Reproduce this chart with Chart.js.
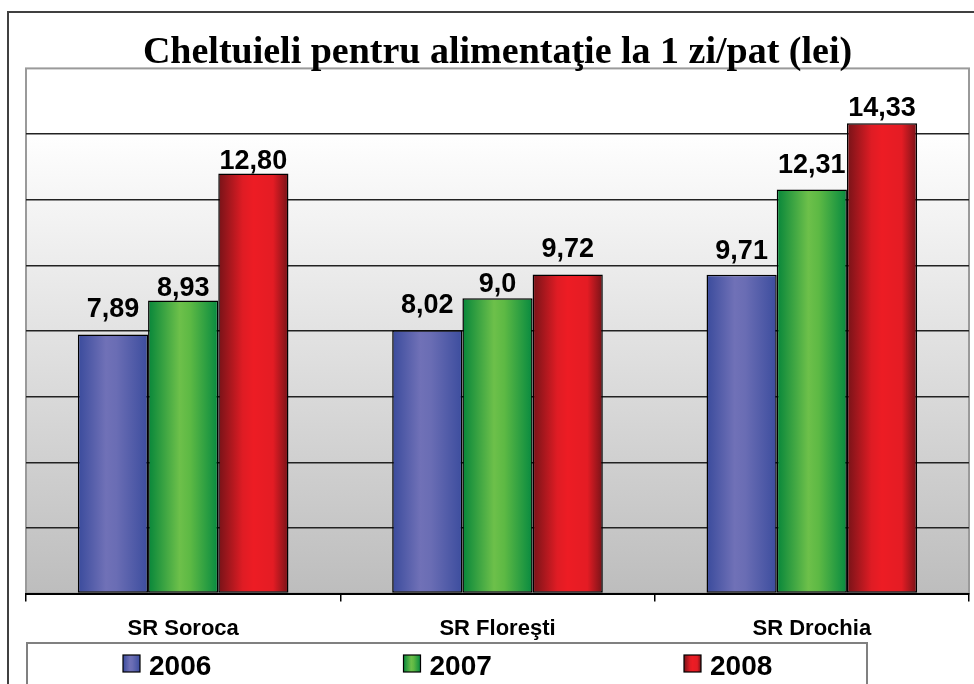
<!DOCTYPE html>
<html>
<head>
<meta charset="utf-8">
<script src="https://cdn.jsdelivr.net/npm/chart.js@4"></script>
<style>
    html, body { margin: 0; padding: 0; background: #fff; }
    #wrap { width: 974px; height: 684px; }
</style>
</head>
<body>
<div id="wrap"><canvas id="chart"></canvas></div>
<script>
// Data
const categories = ['SR Soroca', 'SR Floreşti', 'SR Drochia'];
const years = ['2006', '2007', '2008'];
const values2006 = [7.89, 8.02, 9.71];
const values2007 = [8.93, 9.0, 12.31];
const values2008 = [12.80, 9.72, 14.33];
const labels2006 = ['7,89', '8,02', '9,71'];
const labels2007 = ['8,93', '9,0', '12,31'];
const labels2008 = ['12,80', '9,72', '14,33'];
const yTicks = [0, 2, 4, 6, 8, 10, 12, 14, 16];

// Gap (px) between each value label and its bar, as placed in the original
const labelGaps = [[17, 16, 15], [3, 5, 16], [3, 17, 6]];

// Gradient stops for the cylinder look
const gradStops = [
    [[0, '#3a4b9c'], [0.4, '#7071b7'], [0.55, '#6a6db4'], [1, '#3c4d9e']],
    [[0, '#07863a'], [0.45, '#6dc04a'], [0.6, '#5db944'], [1, '#078a40']],
    [[0, '#761318'], [0.35, '#df1c24'], [0.5, '#ed1c24'], [0.78, '#e41c24'], [1, '#761318']]
];

const CAT_PCT = 0.67;

function makeGradient(ctx, left, width, idx) {
    const g = ctx.createLinearGradient(left, 0, left + width, 0);
    gradStops[idx].forEach(s => g.addColorStop(s[0], s[1]));
    return g;
}

function barFill(context) {
    const chart = context.chart;
    const x = chart.scales.x;
    const idx = context.datasetIndex;
    const fallback = gradStops[idx][1][1];
    if (!x || context.type !== 'data') return fallback;
    const center = x.getPixelForValue(context.dataIndex);
    const catW = (x.right - x.left) / categories.length;
    const barW = catW * CAT_PCT / years.length;
    const left = center - catW * CAT_PCT / 2 + idx * barW;
    if (!isFinite(left) || !isFinite(barW) || barW <= 0) return fallback;
    return makeGradient(chart.ctx, left, barW, idx);
}

// Background, outer frame and plot gradient
const backgroundPlugin = {
    id: 'background',
    beforeDraw(chart) {
        const ctx = chart.ctx;
        const a = chart.chartArea;
        ctx.save();
        ctx.fillStyle = '#fff';
        ctx.fillRect(0, 0, chart.width, chart.height);
        const g = ctx.createLinearGradient(0, a.top, 0, a.bottom);
        g.addColorStop(0, '#ffffff');
        g.addColorStop(0.12, '#ffffff');
        g.addColorStop(1, '#bdbdbd');
        ctx.fillStyle = g;
        ctx.fillRect(a.left, a.top, a.right - a.left, a.bottom - a.top);
        ctx.strokeStyle = '#9a9a9a';
        ctx.lineWidth = 2;
        ctx.strokeRect(a.left, a.top, a.right - a.left, a.bottom - a.top);
        ctx.strokeStyle = '#404040';
        ctx.lineWidth = 2;
        ctx.strokeRect(8, 12, chart.width + 20, chart.height + 20);
        ctx.restore();
    }
};

// Value labels above bars + legend box at the bottom
const labelsPlugin = {
    id: 'valueLabels',
    afterDatasetsDraw(chart) {
        const ctx = chart.ctx;
        const texts = [labels2006, labels2007, labels2008];
        ctx.save();
        ctx.font = 'bold 27px "Liberation Sans", Arial, sans-serif';
        ctx.fillStyle = '#000';
        ctx.textAlign = 'center';
        ctx.textBaseline = 'alphabetic';
        chart.data.datasets.forEach((ds, i) => {
            chart.getDatasetMeta(i).data.forEach((bar, j) => {
                ctx.fillText(texts[i][j], bar.x, bar.y - 1 - labelGaps[i][j]);
            });
        });
        ctx.restore();
    },
    afterDraw(chart) {
        const ctx = chart.ctx;
        ctx.save();
        ctx.strokeStyle = '#808080';
        ctx.lineWidth = 2;
        ctx.strokeRect(27, 643, 840, 60);
        ctx.font = 'bold 28px "Liberation Sans", Arial, sans-serif';
        ctx.textBaseline = 'alphabetic';
        years.forEach((y, i) => {
            const bx = 123 + i * 280.5;
            ctx.fillStyle = makeGradient(ctx, bx, 17, i);
            ctx.fillRect(bx, 655, 17, 17);
            ctx.strokeStyle = '#000';
            ctx.lineWidth = 1.2;
            ctx.strokeRect(bx, 655, 17, 17);
            ctx.fillStyle = '#000';
            ctx.fillText(y, bx + 26, 675);
        });
        ctx.restore();
    }
};

function barDataset(i, data) {
    return {
        label: years[i],
        data: data,
        backgroundColor: barFill,
        borderColor: '#000',
        borderWidth: 1.5,
        borderSkipped: false,
        categoryPercentage: CAT_PCT,
        barPercentage: 1.0
    };
}

const chart = new Chart(document.getElementById('chart'), {
    type: 'bar',
    data: {
        labels: categories,
        datasets: [
            barDataset(0, values2006),
            barDataset(1, values2007),
            barDataset(2, values2008)
        ]
    },
    plugins: [backgroundPlugin, labelsPlugin],
    options: {
        responsive: true,
        maintainAspectRatio: false,
        animation: false,
        devicePixelRatio: 1,
        layout: {
            padding: { left: 26, right: 5, top: 0, bottom: 28 }
        },
        plugins: {
            legend: { display: false },
            tooltip: { enabled: false },
            colors: { enabled: false },
            title: {
                display: true,
                text: 'Cheltuieli pentru alimentaţie la 1 zi/pat (lei)',
                color: '#000',
                font: { family: '"Liberation Serif", "Times New Roman", serif', size: 38, weight: 'bold', lineHeight: 0.8 },
                padding: { top: 38, bottom: 0 }
            }
        },
        scales: {
            x: {
                grid: {
                    drawOnChartArea: false,
                    drawTicks: true,
                    tickLength: 8,
                    color: '#000',
                    lineWidth: 1.5
                },
                border: { display: true, color: '#000', width: 2 },
                ticks: {
                    color: '#000',
                    padding: 14,
                    font: { family: '"Liberation Sans", Arial, sans-serif', size: 22, weight: 'bold' }
                }
            },
            y: {
                min: yTicks[0],
                max: yTicks[yTicks.length - 1],
                afterBuildTicks: axis => { axis.ticks = yTicks.map(v => ({ value: v })); },
                grid: {
                    drawTicks: false,
                    color: c => (c.tick.value === 0 || c.tick.value === 16) ? 'rgba(0,0,0,0)' : '#222',
                    lineWidth: 1.5
                },
                border: { display: false },
                ticks: { display: false }
            }
        }
    }
});
</script>
</body>
</html>
